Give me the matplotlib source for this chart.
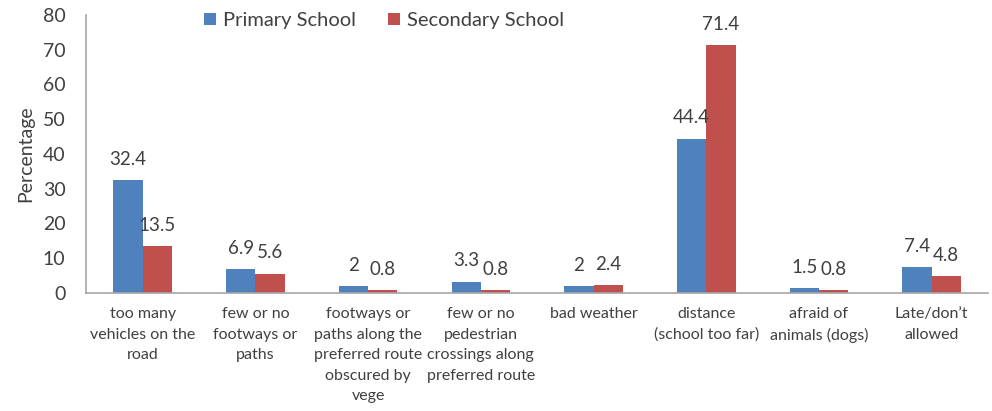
import numpy as np
import matplotlib.pyplot as plt

categories = [
    "too many\nvehicles on the\nroad",
    "few or no\nfootways or\npaths",
    "footways or\npaths along the\npreferred route\nobscured by\nvege",
    "few or no\npedestrian\ncrossings along\npreferred route",
    "bad weather",
    "distance\n(school too far)",
    "afraid of\nanimals (dogs)",
    "Late/don\u2019t\nallowed",
]
primary = [32.4, 6.9, 2, 3.3, 2, 44.4, 1.5, 7.4]
secondary = [13.5, 5.6, 0.8, 0.8, 2.4, 71.4, 0.8, 4.8]
yticks = [0, 10, 20, 30, 40, 50, 60, 70, 80]

plt.rcParams['font.family'] = ['Lato', 'DejaVu Sans']
text_color = '#404040'
blue = '#4F81BD'
red = '#C0504D'

fig = plt.figure(figsize=(9.92, 4.11), dpi=100)
ax = fig.add_axes([0.087, 0.287, 0.909, 0.677])

x = np.arange(len(categories))
w = 0.26
bars1 = ax.bar(x - w / 2, primary, w, color=blue, label='Primary School')
bars2 = ax.bar(x + w / 2, secondary, w, color=red, label='Secondary School')

# value labels above each bar
for bar, val in zip(list(bars1) + list(bars2), primary + secondary):
    ax.text(bar.get_x() + bar.get_width() / 2, val + 3.5, f"{val:g}",
            ha='center', va='bottom', fontsize=13.5, color=text_color)

ax.set_xlim(-0.5, len(categories) - 0.5)
ax.set_ylim(0, 80)
ax.set_yticks(yticks)
ax.set_xticks(x)
ax.set_xticklabels(categories, fontsize=11.5, color=text_color, linespacing=1.6)
ax.tick_params(axis='both', length=0, colors=text_color)
ax.tick_params(axis='y', labelsize=14, pad=15)
ax.tick_params(axis='x', pad=10)
ax.set_ylabel('Percentage', fontsize=14, color=text_color, labelpad=6)

for side in ['top', 'right']:
    ax.spines[side].set_visible(False)
for side in ['left', 'bottom']:
    ax.spines[side].set_color('#a6a6a6')
    ax.spines[side].set_linewidth(1.2)

ax.legend(loc='upper center', bbox_to_anchor=(0.33, 1.075), ncol=2, frameon=False,
          fontsize=14.5, handlelength=0.6, handleheight=0.6, handletextpad=0.35,
          columnspacing=1.6, labelcolor=text_color)

fig.savefig('out.png', dpi=100)
